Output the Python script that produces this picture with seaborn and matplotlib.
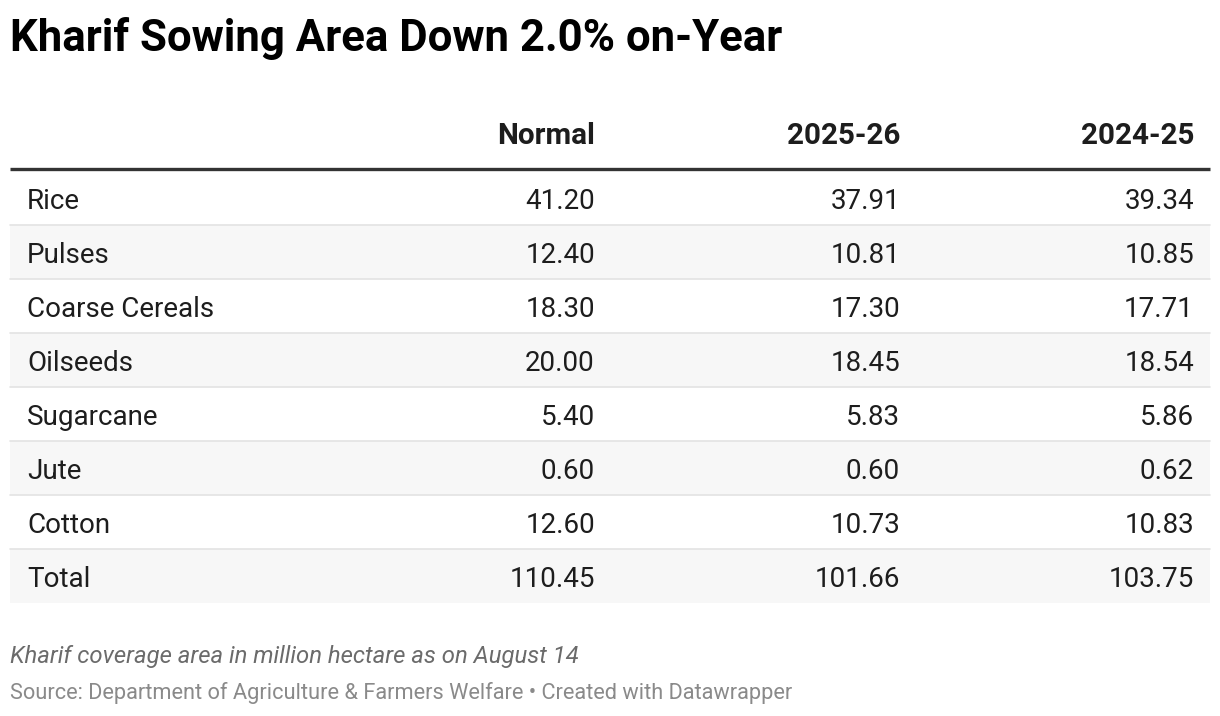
import matplotlib
matplotlib.use("Agg")
import matplotlib.pyplot as plt
import seaborn as sns
import pandas as pd

# Данные таблицы
crops = ["Rice", "Pulses", "Coarse Cereals", "Oilseeds", "Sugarcane", "Jute", "Cotton", "Total"]
normal = [41.20, 12.40, 18.30, 20.00, 5.40, 0.60, 12.60, 110.45]
season_2025 = [37.91, 10.81, 17.30, 18.45, 5.83, 0.60, 10.73, 101.66]
season_2024 = [39.34, 10.85, 17.71, 18.54, 5.86, 0.62, 10.83, 103.75]
columns = ["Normal", "2025-26", "2024-25"]

title = "Kharif Sowing Area Down 2.0% on-Year"
note = "Kharif coverage area in million hectare as on August 14"
source = "Source: Department of Agriculture & Farmers Welfare \u2022 Created with Datawrapper"

df = pd.DataFrame({"Crop": crops, "Normal": normal, "2025-26": season_2025, "2024-25": season_2024})

sns.set_theme(style="white")
plt.rcParams["font.family"] = ["Roboto", "DejaVu Sans"]

fig = plt.figure(figsize=(12.2, 7.16), dpi=100)
ax = fig.add_axes([0, 0, 1, 1])
ax.set_xlim(0, 1220)
ax.set_ylim(716, 0)
ax.axis("off")

# раскладка в пикселях
left, right = 10, 1210
row_top, row_h = 171, 54
col_right = [595, 900, 1194]

ax.text(10, 38, title, fontsize=31.5, fontweight="bold",
        color="#000000", va="center", ha="left")

# заголовки столбцов
for c, x in zip(columns, col_right):
    ax.text(x, 136, c, fontsize=21.3, fontweight="bold", ha="right", va="center", color="#1d1d1d")
ax.plot([left, right], [169, 169], color="#333333", lw=2.4, solid_capstyle="butt")

for i, row in df.iterrows():
    y0 = row_top + i * row_h
    if i % 2 == 1:
        ax.axhspan(y0, y0 + row_h, xmin=left / 1220, xmax=right / 1220, color="#f7f7f7", lw=0)
    if i > 0:
        ax.plot([left, right], [y0, y0], color="#e3e3e3", lw=1.2)
    yc = y0 + row_h / 2 + 3.5
    ax.text(27, yc, row["Crop"], fontsize=20, ha="left", va="center", color="#1d1d1d")
    for c, x in zip(columns, col_right):
        ax.text(x, yc, f"{row[c]:.2f}", fontsize=20, ha="right", va="center", color="#1d1d1d")

ax.text(10, 657, note, fontsize=17.2, style="italic", ha="left", va="center", color="#6b6b6b")
ax.text(10, 693, source, fontsize=15.7, ha="left", va="center", color="#8a8a8a")

plt.savefig("out.png", dpi=100)
